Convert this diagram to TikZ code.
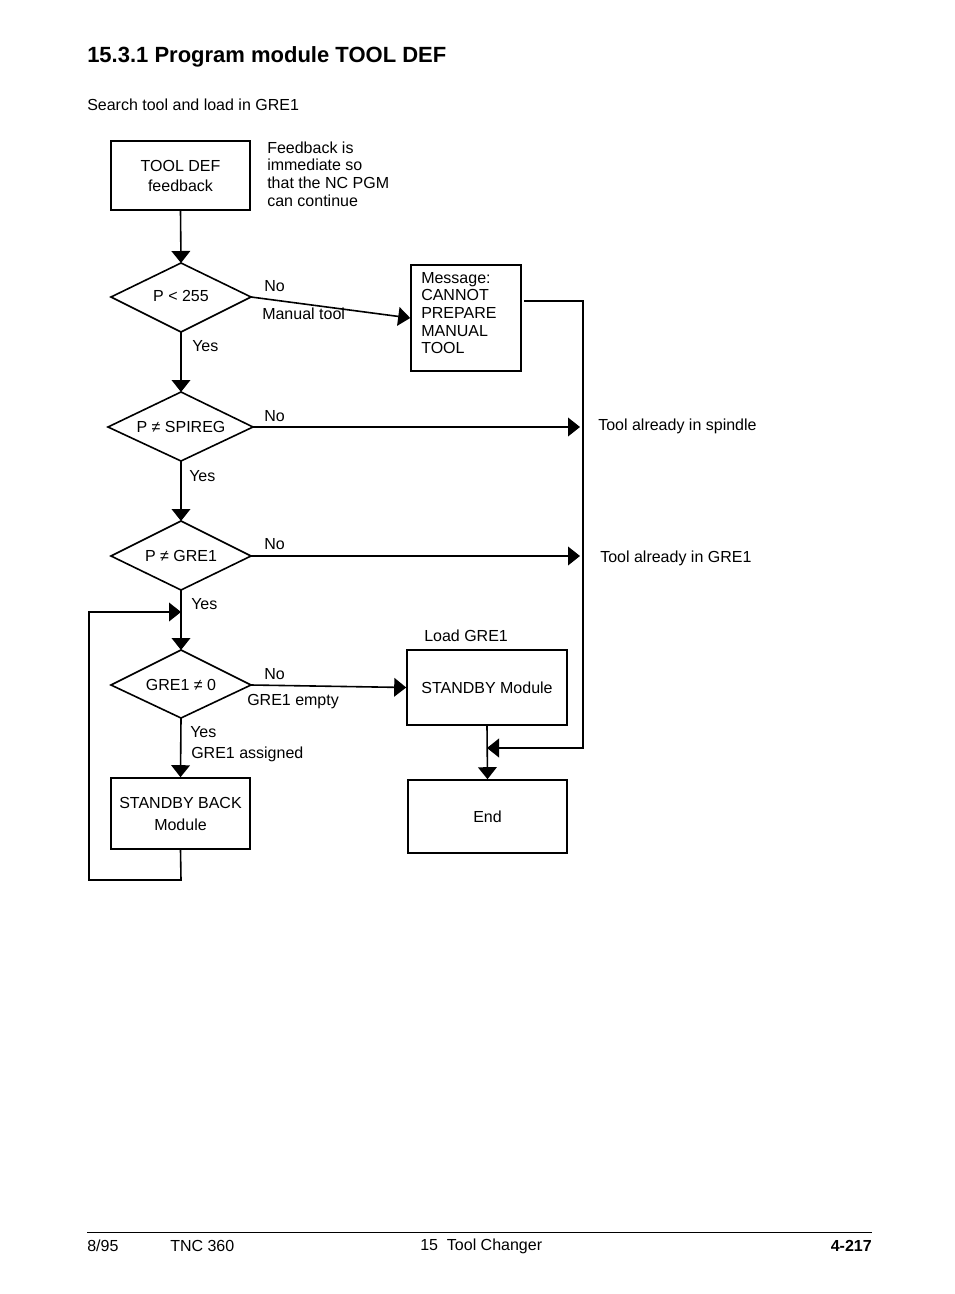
\documentclass[tikz,border=0pt]{standalone}
\usepackage{fontspec}
\setmainfont{Liberation Sans}
\usetikzlibrary{arrows.meta,shapes.geometric}
\begin{document}
\begin{tikzpicture}[x=0.75pt,y=-0.75pt,
  box/.style={draw,line width=1.2pt,minimum width=0,inner sep=0,align=center},
  dia/.style={draw,line width=1.2pt},
  lab/.style={anchor=west,inner sep=0,font=\fontsize{12}{14}\selectfont},
  arr/.style={line width=1.2pt,-{Triangle[length=9pt,width=14pt]}},
  ln/.style={line width=1.2pt}]
\useasboundingbox (0,0) rectangle (954,1294);
\node[anchor=west,inner sep=0,font=\fontsize{16.5}{20}\selectfont\bfseries] (title) at (87,57) {15.3.1 Program module TOOL DEF};
\node[lab] (sub) at (87,105) {Search tool and load in GRE1};
% nodes
\node[box,minimum width=139*0.75pt,minimum height=69*0.75pt,font=\fontsize{12}{15}\selectfont] (tool) at (180.5,175.5) {TOOL DEF\\feedback};
\node[lab,align=left,font=\fontsize{12}{13.2}\selectfont] (fb) at (267,174) {Feedback is\\immediate so\\that the NC PGM\\can continue};
\coordinate (d1t) at (181,263);\coordinate (d1b) at (181,332);\coordinate (d1l) at (111,297);\coordinate (d1r) at (251,297);
\draw[dia] (d1t)--(d1r)--(d1b)--(d1l)--cycle;
\node[lab,anchor=center] (t1) at (181,296) {P < 255};
\coordinate (d2t) at (181,392);\coordinate (d2b) at (181,461);\coordinate (d2l) at (108,427);\coordinate (d2r) at (253,427);
\draw[dia] (d2t)--(d2r)--(d2b)--(d2l)--cycle;
\node[lab,anchor=center] (t2) at (181,427) {P ≠ SPIREG};
\coordinate (d3t) at (181,521);\coordinate (d3b) at (181,590);\coordinate (d3l) at (111,556);\coordinate (d3r) at (251,556);
\draw[dia] (d3t)--(d3r)--(d3b)--(d3l)--cycle;
\node[lab,anchor=center] (t3) at (181,556) {P ≠ GRE1};
\coordinate (d4t) at (181,650);\coordinate (d4b) at (181,718);\coordinate (d4l) at (111,685);\coordinate (d4r) at (251,685);
\draw[dia] (d4t)--(d4r)--(d4b)--(d4l)--cycle;
\node[lab,anchor=center] (t4) at (181,685) {GRE1 ≠ 0};
\node[box,minimum width=110*0.75pt,minimum height=106*0.75pt] (msg) at (466,318) {};
\node[lab,align=left,anchor=north west,font=\fontsize{12}{13.2}\selectfont] (msgt) at (421,272) {Message:\\CANNOT\\PREPARE\\MANUAL\\TOOL};
\node[box,minimum width=160*0.75pt,minimum height=75*0.75pt,font=\fontsize{12}{15}\selectfont] (sb) at (487,687.5) {STANDBY Module};
\node[box,minimum width=159*0.75pt,minimum height=73*0.75pt,font=\fontsize{12}{15}\selectfont] (end) at (487.5,816.5) {End};
\node[box,minimum width=139*0.75pt,minimum height=71*0.75pt,font=\fontsize{12}{16.5}\selectfont] (sbb) at (180.5,813.5) {STANDBY BACK\\Module};
% labels
\node[lab] (l1) at (264,286) {No};
\node[lab] (l2) at (262,314) {Manual tool};
\node[lab] (l3) at (192,346) {Yes};
\node[lab] (l4) at (264,416) {No};
\node[lab] (l5) at (189,476) {Yes};
\node[lab] (l6) at (264,544) {No};
\node[lab] (l7) at (191,604) {Yes};
\node[lab] (l8) at (264,674) {No};
\node[lab] (l9) at (247,702) {GRE1 empty};
\node[lab] (l10) at (190,732) {Yes};
\node[lab] (l11) at (191,754) {GRE1 assigned};
\node[lab] (l12) at (424,636) {Load GRE1};
\node[lab] (s1) at (598,426) {Tool already in spindle};
\node[lab] (s2) at (600,558) {Tool already in GRE1};
\coordinate (e1) at (580,427);\coordinate (e2) at (580,556);
% connectors
\draw[arr] (tool.south) -- (d1t);
\draw[arr] (d1r) -- (msg.west);
\draw[arr] (d1b) -- (d2t);
\draw[arr] (d2r) -- (e1);
\draw[arr] (d2b) -- (d3t);
\draw[arr] (d3r) -- (e2);
\draw[arr] (d3b) -- (d4t);
\draw[arr] (d4r) -- (sb.west);
\draw[arr] (d4b) -- (sbb.north);
\draw[arr] (sb.south) -- (end.north);
\coordinate (mj) at (487,748);
\draw[arr] (524,301) -- (583,301) -- (583,748) -- (mj);
\coordinate (lj) at (181,612);
\draw[arr] (sbb.south) -- (181,880) -- (89,880) -- (89,612) -- (lj);
% footer
\draw[line width=0.6pt] (87,1232) -- (872,1232);
\node[lab] (f1) at (87,1246) {8/95};
\node[lab] (f2) at (170,1246) {TNC 360};
\node[lab] (f3) at (420,1246) {15\ \ Tool Changer};
\node[lab,anchor=east,font=\fontsize{12}{14}\selectfont\bfseries] (f4) at (872,1246) {4-217};
\end{tikzpicture}
\end{document}
